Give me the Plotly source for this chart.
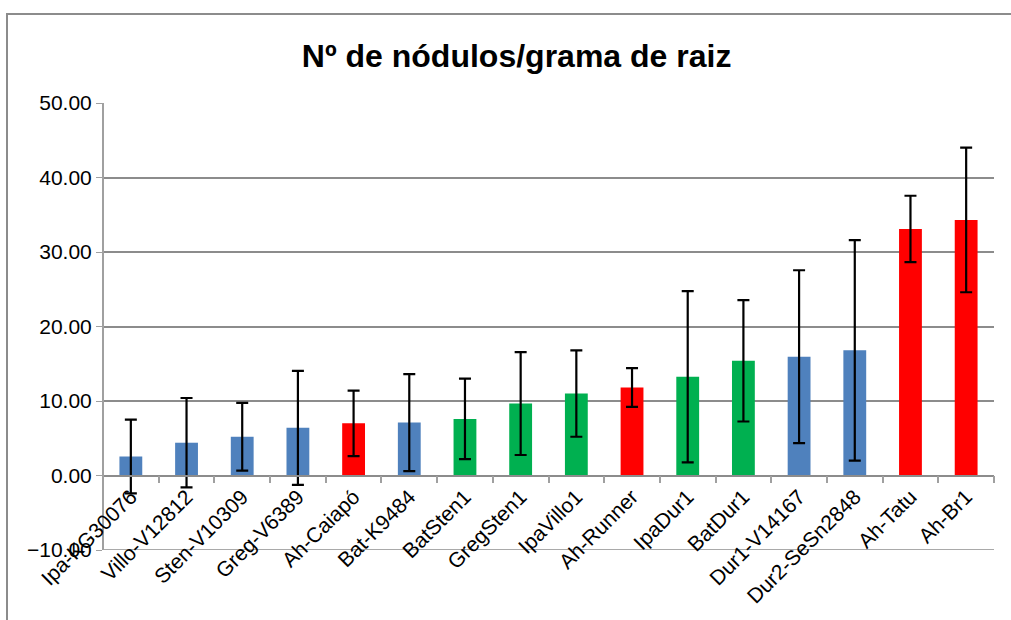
import plotly.graph_objects as go

categories = ["Ipa-KG30076", "Villo-V12812", "Sten-V10309", "Greg-V6389", "Ah-Caiapó",
              "Bat-K9484", "BatSten1", "GregSten1", "IpaVillo1", "Ah-Runner", "IpaDur1",
              "BatDur1", "Dur1-V14167", "Dur2-SeSn2848", "Ah-Tatu", "Ah-Br1"]
values = [2.55, 4.4, 5.2, 6.4, 7.0, 7.1, 7.6, 9.65, 11.0, 11.8, 13.25, 15.4, 15.95, 16.8, 33.1, 34.3]
errors = [4.95, 6.0, 4.55, 7.65, 4.4, 6.5, 5.4, 6.9, 5.8, 2.6, 11.5, 8.15, 11.6, 14.8, 4.45, 9.7]
groups = ["b", "b", "b", "b", "r", "b", "g", "g", "g", "r", "g", "g", "b", "b", "r", "r"]
group_colors = {"b": "#4F81BD", "r": "#FF0000", "g": "#00B050"}
y_ticks = [-10, 0, 10, 20, 30, 40, 50]
y_min, y_max = -10, 50

FONT = "Liberation Sans, Arial, sans-serif"
GRID = "#8C8C8C"

fig = go.Figure()
fig.add_trace(go.Bar(
    x=categories, y=values,
    marker=dict(color=[group_colors[g] for g in groups], line=dict(width=0)),
    error_y=dict(type="data", array=errors, visible=True, color="black",
                 thickness=2.2, width=6),
    showlegend=False,
))

# plot area geometry in pixels
L, R, T, B = 103, 17, 103, 70
W, H = 1011, 620
pw, ph = W - L - R, H - T - B

fig.update_layout(
    width=W, height=H,
    margin=dict(l=L, r=R, t=T, b=B, autoexpand=False),
    paper_bgcolor="white", plot_bgcolor="white",
    bargap=0.59,
    font=dict(family=FONT, color="black", size=21),
    title=dict(text="<b>Nº de nódulos/grama de raiz</b>",
               font=dict(family=FONT, size=32, color="black"),
               x=0.511, xref="container", xanchor="center",
               y=1 - 56 / H, yref="container", yanchor="middle"),
    yaxis=dict(range=[y_min, y_max], tickvals=y_ticks, tickformat=".2f",
               anchor="free", position=0,
               showgrid=True, gridcolor=GRID, gridwidth=1.5,
               showline=True, linecolor="#A0A0A0", linewidth=2,
               ticks="outside", ticklen=6, tickcolor="#A0A0A0",
               zeroline=False, automargin=False,
               tickfont=dict(size=21, family=FONT)),
    xaxis=dict(type="category", anchor="free", position=(0 - y_min) / (y_max - y_min),
               showline=True, linecolor=GRID, linewidth=1.5,
               ticks="outside", tickson="boundaries", ticklen=7, tickcolor="#A0A0A0",
               tickwidth=1.5,
               tickangle=-45, showgrid=False, automargin=False,
               tickfont=dict(size=21, family=FONT)),
)

# bottom gridline at the minimum of the value axis
fig.add_shape(type="line", xref="paper", yref="y", x0=0, x1=1, y0=y_min, y1=y_min,
              line=dict(color=GRID, width=1.5), layer="below")

# chart-area border (Excel chart frame)
fig.add_shape(type="rect", xref="paper", yref="paper",
              x0=(7 - L) / pw, x1=1.1, y0=-0.3, y1=(H - B - 14) / ph,
              line=dict(color="#8C8C8C", width=2), fillcolor="rgba(0,0,0,0)", layer="below")

fig.write_html("out.html", config={"displayModeBar": False},
               post_script="document.body.style.margin='0';")
